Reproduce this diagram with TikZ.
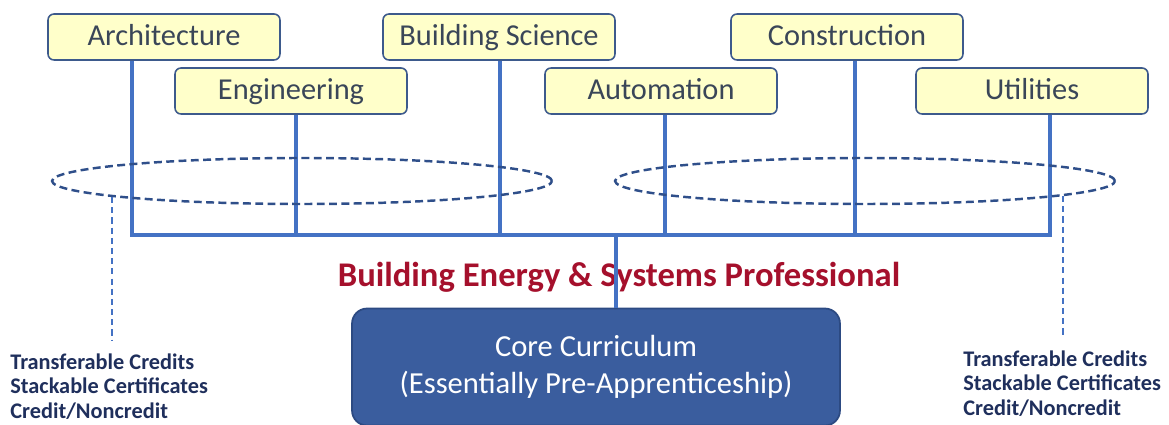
\documentclass[tikz,border=0pt]{standalone}
\usepackage{fontspec}
\setmainfont{Carlito}
\usetikzlibrary{shapes.geometric}
\definecolor{linkblue}{HTML}{4472C4}
\definecolor{ringblue}{HTML}{2F4F8A}
\definecolor{boxfill}{HTML}{FFFFCA}
\definecolor{boxedge}{HTML}{3D5A8C}
\definecolor{boxtext}{HTML}{3A4658}
\definecolor{coreblue}{HTML}{3A5D9E}
\definecolor{coreedge}{HTML}{2C4A82}
\definecolor{titlered}{HTML}{A5102C}
\definecolor{notenavy}{HTML}{1F2F5C}
\tikzset{
	field/.style={draw=boxedge,fill=boxfill,rounded corners=0.12cm,line width=0.9pt,minimum width=4.64cm,minimum height=0.92cm,inner ysep=2pt,text height=14pt,text depth=3.8pt,text=boxtext,font=\fontsize{17.3}{20}\selectfont},
	link/.style={linkblue,line width=2.1pt},
	ring/.style={ellipse,draw=ringblue,dash pattern=on 4.5pt off 2.5pt,line width=1.4pt,minimum width=10cm,minimum height=0.92cm,inner sep=0pt},
	drop/.style={linkblue,line width=1.2pt,dash pattern=on 3.5pt off 2.3pt},
	note/.style={align=left,inner sep=0pt,text=notenavy,font=\bfseries\fontsize{12.7}{14.1}\selectfont},
}
\begin{document}
\begin{tikzpicture}[x=0.02cm,y=-0.02cm]
	\useasboundingbox (0,0) rectangle (1169,425);
	% fields
	\node[field] (arch) at (164,37) {Architecture};
	\node[field] (eng) at (291,91) {Engineering};
	\node[field] (bsci) at (499,37) {Building Science};
	\node[field] (auto) at (661,91) {Automation};
	\node[field] (cons) at (847,37) {Construction};
	\node[field] (util) at (1032,91) {Utilities};
	% bus
	\coordinate (b1) at (132,235);
	\coordinate (b2) at (296,235);
	\coordinate (b3) at (500,235);
	\coordinate (b4) at (665,235);
	\coordinate (b5) at (855,235);
	\coordinate (b6) at (1050,235);
	\coordinate (bc) at (616,235);
	\draw[link] (arch.south -| b1) -- (b1);
	\draw[link] (eng.south -| b2) -- (b2);
	\draw[link] (bsci.south -| b3) -- (b3);
	\draw[link] (auto.south -| b4) -- (b4);
	\draw[link] (cons.south -| b5) -- (b5);
	\draw[link] (util.south -| b6) -- (b6);
	\draw[link,line cap=rect] (b1) -- (b6);
	% core
	\node[titlered,font=\bfseries\fontsize{19.7}{24}\selectfont,anchor=base] (bes) at (619,287) {Building Energy \& Systems Professional};
	\node[draw=coreedge,fill=coreblue,line width=1pt,rounded corners=0.3cm,minimum width=9.76cm,minimum height=2.34cm,align=center,text=white,font=\fontsize{17.4}{21}\selectfont] (core) at (596,367) {Core Curriculum\\(Essentially Pre-Apprenticeship)};
	\draw[link] (bc) -- (core.north -| bc);
	% rings
	\node[ring] (lring) at (302,181) {};
	\node[ring] (rring) at (865,181) {};
	\coordinate (lt) at (112,197);
	\coordinate (lb) at (112,340);
	\coordinate (rt) at (1063,196);
	\coordinate (rb) at (1063,337);
	\draw[drop] (lt) -- (lb);
	\draw[drop] (rt) -- (rb);
	% notes
	\node[note,anchor=north west] (lnote) at (10,353) {Transferable Credits\\Stackable Certificates\\Credit/Noncredit};
	\node[note,anchor=north west] (rnote) at (963,350) {Transferable Credits\\Stackable Certificates\\Credit/Noncredit};
\end{tikzpicture}
\end{document}
